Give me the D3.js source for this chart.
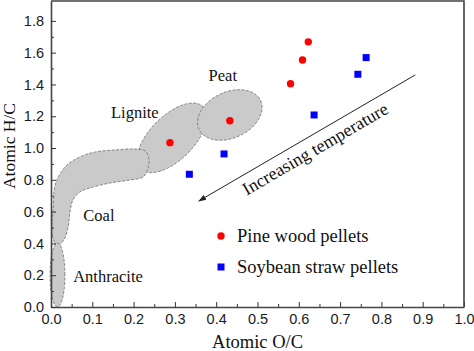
<!DOCTYPE html>
<html>
<head>
<meta charset="utf-8">
<script src="https://cdn.jsdelivr.net/npm/d3@7"></script>
<style>
  body { margin: 0; background: #fff; }
  svg { display: block; }
</style>
</head>
<body>
<span></span>
<script>
// Van Krevelen style plot: H/C vs O/C for the two pellet types

var pineOC = [0.288, 0.433, 0.580, 0.609, 0.623];
var pineHC = [1.034, 1.172, 1.405, 1.554, 1.668];
var soyOC = [0.335, 0.419, 0.637, 0.743, 0.763];
var soyHC = [0.835, 0.963, 1.208, 1.464, 1.569];

var xTicks = [0, 0.1, 0.2, 0.3, 0.4, 0.5, 0.6, 0.7, 0.8, 0.9, 1.0];
var yTicks = [0, 0.2, 0.4, 0.6, 0.8, 1.0, 1.2, 1.4, 1.6, 1.8];

// coal band outline (O/C, H/C)
var coalOC = [0.015, 0.003, 0.005, 0.010, 0.022, 0.039, 0.070, 0.107, 0.155, 0.203, 0.228, 0.237, 0.235, 0.223, 0.191, 0.143, 0.094, 0.070, 0.053, 0.046, 0.041, 0.031];
var coalHC = [0.384, 0.453, 0.610, 0.768, 0.837, 0.894, 0.944, 0.975, 0.988, 0.994, 0.982, 0.938, 0.875, 0.818, 0.799, 0.780, 0.749, 0.724, 0.673, 0.598, 0.497, 0.422];

// ellipses: centre and two semi-axis vectors, in data units
var lignite = {cx: 0.293, cy: 1.064, ax: 0.0753, ay: 0.196, bx: 0.0377, by: -0.098};
var peat = {cx: 0.433, cy: 1.208, ax: 0.0746, ay: 0.0906, bx: 0.0235, by: -0.131};
var anthracite = {cx: 0.0157, cy: 0.201, ax: 0.018, ay: 0, bx: 0, by: 0.201};

var margin = {top: 1, right: 10, bottom: 44, left: 51};
var width = 474;
var height = 351;
var serif = "'Liberation Serif', 'Times New Roman', Times, serif";

var svg = d3.select("span")
    .append("svg")
    .attr("width", width)
    .attr("height", height);

var xScale = d3.scaleLinear()
    .domain([0, 1])
    .range([margin.left, width - margin.right]);
var yScale = d3.scaleLinear()
    .domain([0, 1.925])
    .range([height - margin.bottom, margin.top]);

function ellipsePts(e) {
    return d3.range(0, 64).map(function(i) {
        var t = i / 64 * 2 * Math.PI;
        return [e.cx + e.ax * Math.cos(t) + e.bx * Math.sin(t),
                e.cy + e.ay * Math.cos(t) + e.by * Math.sin(t)];
    });
}

var line = d3.line()
    .x(d => xScale(d[0]))
    .y(d => yScale(d[1]));

var regions = svg.append("g");

function region(pts, curve) {
    regions.append("path")
        .attr("d", line.curve(curve)(pts))
        .attr("fill", "#cacaca")
        .attr("stroke", "#6e6e6e")
        .attr("stroke-width", 0.8)
        .attr("stroke-dasharray", "3,1.5");
}

region(ellipsePts(lignite), d3.curveLinearClosed);
region(coalOC.map((d, i) => [d, coalHC[i]]), d3.curveCatmullRomClosed);
region(ellipsePts(peat), d3.curveLinearClosed);
region(ellipsePts(anthracite), d3.curveLinearClosed);

// region labels
var labels = [
    {t: "Peat", x: 0.416, y: 1.42},
    {t: "Lignite", x: 0.203, y: 1.19},
    {t: "Coal", x: 0.116, y: 0.541},
    {t: "Anthracite", x: 0.138, y: 0.157}
];
svg.append("g")
    .selectAll("text")
    .data(labels)
    .join("text")
    .attr("x", d => xScale(d.x))
    .attr("y", d => yScale(d.y))
    .attr("text-anchor", "middle")
    .style("font-family", serif)
    .style("font-size", "16.5px")
    .attr("fill", "#111")
    .text(d => d.t);

// temperature arrow
svg.append("defs").append("marker")
    .attr("id", "arr")
    .attr("viewBox", "0 0 10 10")
    .attr("refX", 9).attr("refY", 5)
    .attr("markerWidth", 8).attr("markerHeight", 8)
    .attr("orient", "auto")
    .append("path")
    .attr("d", "M0,1.5 L10,5 L0,8.5 Z")
    .attr("fill", "#222");

svg.append("line")
    .attr("x1", xScale(0.882)).attr("y1", yScale(1.46))
    .attr("x2", xScale(0.358)).attr("y2", yScale(0.667))
    .attr("stroke", "#222")
    .attr("stroke-width", 1)
    .attr("marker-end", "url(#arr)");

var ang = Math.atan2(yScale(0.667) - yScale(1.46), xScale(0.358) - xScale(0.882)) * 180 / Math.PI + 180;
svg.append("text")
    .attr("transform", `translate(${xScale(0.647)},${yScale(0.962)}) rotate(${ang})`)
    .attr("text-anchor", "middle")
    .style("font-family", serif)
    .style("font-size", "18px")
    .attr("fill", "#111")
    .text("Increasing temperature");

// data points
svg.append("g")
    .selectAll("circle")
    .data(pineOC)
    .join("circle")
    .attr("cx", d => xScale(d))
    .attr("cy", (d, i) => yScale(pineHC[i]))
    .attr("r", 3.7)
    .attr("fill", "#ff0000");

svg.append("g")
    .selectAll("rect")
    .data(soyOC)
    .join("rect")
    .attr("x", d => xScale(d) - 3.5)
    .attr("y", (d, i) => yScale(soyHC[i]) - 3.5)
    .attr("width", 7)
    .attr("height", 7)
    .attr("fill", "#0000ff");

// axes, ticks pointing inward
var tickFont = "'Liberation Sans', Arial, sans-serif";

function xAxis(g) {
    g.call(d3.axisBottom(xScale)
        .tickValues(xTicks)
        .tickFormat(d3.format(".1f"))
        .tickSizeInner(-5).tickSizeOuter(0).tickPadding(7));
}
function yAxis(g) {
    g.call(d3.axisLeft(yScale)
        .tickValues(yTicks)
        .tickFormat(d3.format(".1f"))
        .tickSizeInner(-5).tickSizeOuter(0).tickPadding(7));
}

// minor ticks
svg.append("g")
    .attr("transform", `translate(0, ${height - margin.bottom})`)
    .call(d3.axisBottom(xScale).tickValues(d3.range(0.05, 1, 0.1)).tickFormat("").tickSizeInner(-3).tickSizeOuter(0))
    .call(g => g.select(".domain").remove())
    .selectAll("line").attr("stroke", "#333");
svg.append("g")
    .attr("transform", `translate(${margin.left}, 0)`)
    .call(d3.axisLeft(yScale).tickValues(d3.range(0.1, 1.9, 0.2)).tickFormat("").tickSizeInner(-3).tickSizeOuter(0))
    .call(g => g.select(".domain").remove())
    .selectAll("line").attr("stroke", "#333");

var gx = svg.append("g")
    .attr("transform", `translate(0, ${height - margin.bottom})`)
    .call(xAxis);
var gy = svg.append("g")
    .attr("transform", `translate(${margin.left}, 0)`)
    .call(yAxis);

[gx, gy].forEach(function(g) {
    g.selectAll("text").style("font-family", tickFont).style("font-size", "14.5px").attr("fill", "#1a1a1a");
    g.selectAll("line").attr("stroke", "#333");
    g.select(".domain").attr("stroke", "#444").attr("stroke-width", 1.6);
});

// top and right frame
svg.append("path")
    .attr("d", `M${xScale(0)},${yScale(1.925)} H${xScale(1)} V${yScale(0)}`)
    .attr("fill", "none")
    .attr("stroke", "#444")
    .attr("stroke-width", 1.6);

// axis titles
svg.append("text")
    .attr("x", (xScale(0) + xScale(1)) / 2)
    .attr("y", 348)
    .attr("text-anchor", "middle")
    .style("font-family", serif)
    .style("font-size", "18.5px")
    .attr("fill", "#111")
    .text("Atomic O/C");

svg.append("text")
    .attr("transform", "translate(15, 146) rotate(-90)")
    .attr("text-anchor", "middle")
    .style("font-family", serif)
    .style("font-size", "17.5px")
    .attr("fill", "#111")
    .text("Atomic H/C");

// legend
var legend = svg.append("g").attr("transform", "translate(221, 236)");
legend.append("circle").attr("r", 3.7).attr("fill", "#ff0000");
legend.append("text").attr("x", 16).attr("y", 6)
    .style("font-family", serif)
    .style("font-size", "18.5px").attr("fill", "#111")
    .text("Pine wood pellets");
legend.append("rect").attr("x", -3.5).attr("y", 31 - 3.5).attr("width", 7).attr("height", 7).attr("fill", "#0000ff");
legend.append("text").attr("x", 16).attr("y", 37)
    .style("font-family", serif)
    .style("font-size", "18.5px").attr("fill", "#111")
    .text("Soybean straw pellets");
</script>
</body>
</html>
